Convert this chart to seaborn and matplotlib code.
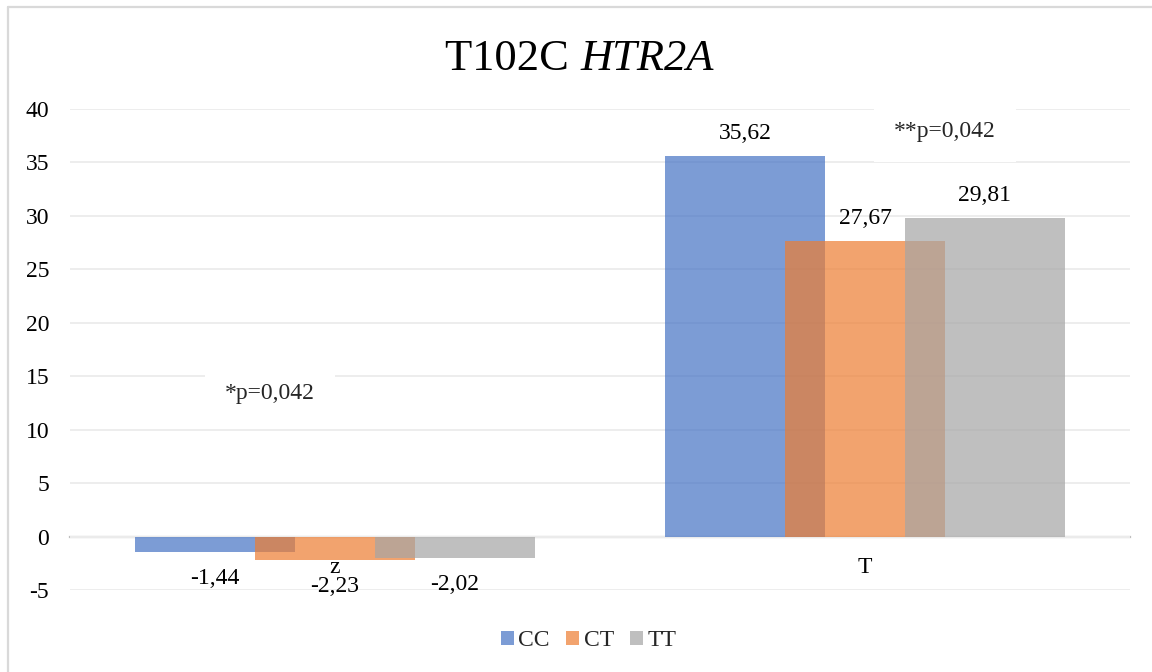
import matplotlib
matplotlib.use("Agg")
import matplotlib.pyplot as plt
from matplotlib.lines import Line2D
from matplotlib.patches import Patch
import seaborn as sns
import pandas as pd

# --- data -------------------------------------------------------------
categories = ["z", "T"]
genotypes = ["CC", "CT", "TT"]
cc_values = [-1.44, 35.62]
ct_values = [-2.23, 27.67]
tt_values = [-2.02, 29.81]
y_ticks = [-5, 0, 5, 10, 15, 20, 25, 30, 35, 40]
note_z = "*p=0,042"
note_t = "**p=0,042"
title_plain = "T102C "
title_gene = "HTR2A"

colors = {"CC": "#4472C4", "CT": "#ED7D31", "TT": "#A5A5A5"}
bar_alpha = 0.7

df = pd.DataFrame({
    "category": categories * 3,
    "genotype": [g for g in genotypes for _ in categories],
    "value": cc_values + ct_values + tt_values,
})

# --- style ------------------------------------------------------------
sns.set_theme(style="white")
plt.rcParams["font.family"] = ["Liberation Serif", "DejaVu Serif"]
plt.rcParams["axes.unicode_minus"] = False

fig = plt.figure(figsize=(11.52, 6.72), dpi=100)
ax = fig.add_axes([70 / 1152, (672 - 590) / 672, 1060 / 1152, 481 / 672])

# bars step by 0.2264 of a category and overlap their neighbours
step = 0.2264
bar_w = 0.302
sns.barplot(data=df, x="category", y="value", hue="genotype",
            order=categories, hue_order=genotypes, palette=colors,
            saturation=1, alpha=bar_alpha, width=step * 3,
            linewidth=0, legend=False, ax=ax)
for p in ax.patches:
    c = p.get_x() + p.get_width() / 2
    p.set_width(bar_w)
    p.set_x(c - bar_w / 2)

# value labels
for container, vals in zip(ax.containers, [cc_values, ct_values, tt_values]):
    for p, v in zip(container.patches, vals):
        cx = p.get_x() + p.get_width() / 2
        txt = f"{v:.2f}".replace(".", ",")
        if v >= 0:
            ax.annotate(txt, (cx, v), xytext=(0, 8.6), textcoords="offset points",
                        ha="center", va="bottom", fontsize=17, color="#000000")
        else:
            ax.annotate(txt, (cx, v), xytext=(0, -11.5), textcoords="offset points",
                        ha="center", va="top", fontsize=17, color="#000000")

# axes, grid and zero line
ax.set_ylim(-5, 40)
ax.set_xlim(-0.5, 1.5)
ax.set_yticks(y_ticks)
ax.yaxis.grid(True, color="#EDEDED", linewidth=1.4)
ax.set_axisbelow(True)
for side in ["top", "right", "left"]:
    ax.spines[side].set_visible(False)
ax.spines["bottom"].set_position(("data", 0))
ax.spines["bottom"].set_color("#BFBFBF")
ax.spines["bottom"].set_linewidth(1.6)
ax.spines["bottom"].set_zorder(0.5)
ax.tick_params(axis="y", length=0, pad=15, labelsize=17, labelcolor="#000000")
ax.tick_params(axis="x", length=0, pad=15, labelsize=17, labelcolor="#000000")
ax.set_xlabel("")
ax.set_ylabel("")

# significance notes
box = dict(boxstyle="square,pad=0.85", fc="white", ec="none")
ax.text(-0.123, 13.4, note_z, ha="center", va="center", fontsize=17,
        bbox=box, zorder=3)
ax.text(1.151, 37.94, note_t, ha="center", va="center", fontsize=17,
        bbox=box, zorder=3, clip_on=False)

# title: plain prefix followed by the italic gene name, centred as one line
title_y = 1 - 70 / 672
t1 = fig.text(0, title_y, title_plain, ha="left", va="baseline",
              fontsize=32, color="#000000")
t2 = fig.text(0, title_y, title_gene, ha="left", va="baseline",
              fontsize=32, style="italic", color="#000000")
fig.canvas.draw()
r = fig.canvas.get_renderer()
w1 = t1.get_window_extent(r).width / fig.bbox.width
w2 = t2.get_window_extent(r).width / fig.bbox.width
x0 = 0.503 - (w1 + w2) / 2
t1.set_x(x0)
t2.set_x(x0 + w1)

# legend
handles = [Patch(facecolor=colors[g], alpha=bar_alpha, edgecolor="none", label=g)
           for g in genotypes]
fig.legend(handles=handles, loc="center", bbox_to_anchor=(0.511, 1 - 641 / 672),
           ncol=3, frameon=False, fontsize=17, handlelength=0.55,
           handleheight=0.55, handletextpad=0.2, columnspacing=0.68)

# chart frame (left and top edges)
fig.add_artist(Line2D([7.5 / 1152, 7.5 / 1152], [0, 1 - 6.5 / 672],
                      color="#D9D9D9", linewidth=1.6))
fig.add_artist(Line2D([7.5 / 1152, 1], [1 - 6.5 / 672, 1 - 6.5 / 672],
                      color="#D9D9D9", linewidth=1.6))

fig.savefig("out.png", dpi=100, facecolor="white")
